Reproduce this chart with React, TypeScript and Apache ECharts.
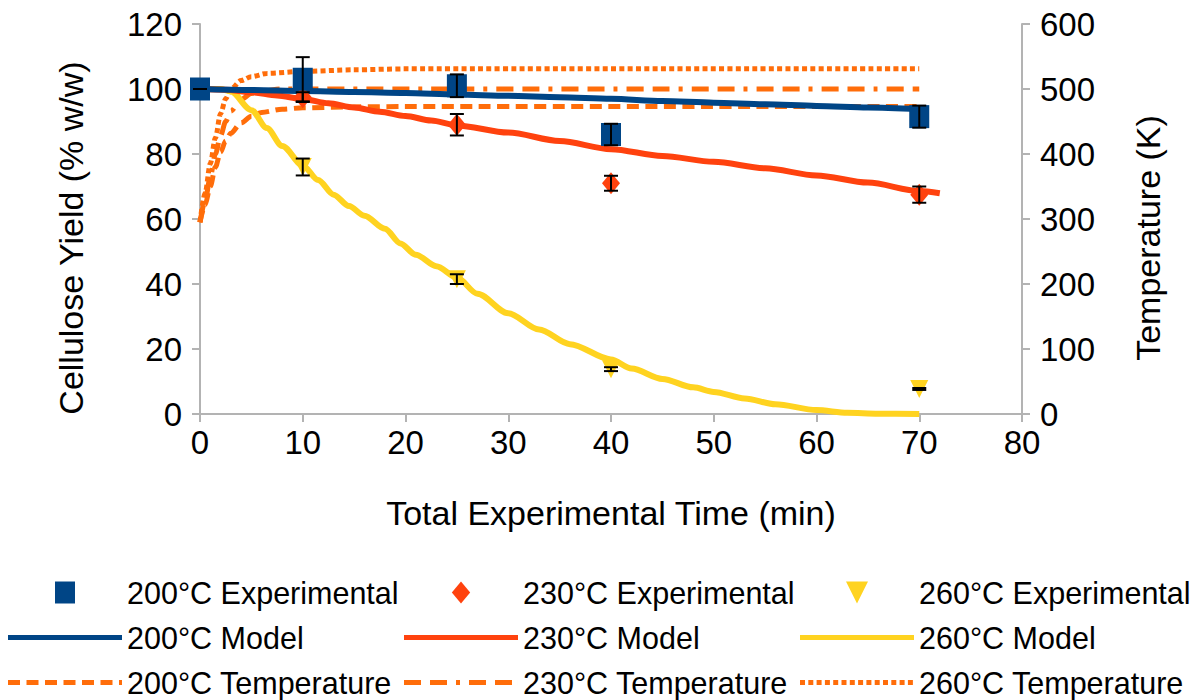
import React, { useEffect, useRef } from 'react';
import * as echarts from 'echarts';

const FONT = '"Liberation Sans", Arial, sans-serif';

// Experimental points [time, yield]
const exp200 = [[0, 100], [10, 103], [25, 101], [40, 86], [70, 91.5]];
const err200 = [0, 6.8, 3.5, 3.3, 3.4];
const exp230 = [[0, 100], [10, 97.5], [25, 89], [40, 71], [70, 67.5]];
const err230 = [0, 1.5, 3.3, 2.3, 2.5];
const exp260 = [[0, 100], [10, 76], [25, 41.5], [40, 13.8], [70, 7.7]];
const err260 = [0, 2.6, 1.5, 0.6, 0.3];

// Model curves [time, yield]
const model200 = [[0, 100], [5, 99.7], [10, 99.4], [15, 99.1], [20, 98.8], [25, 98.3], [30, 97.9], [35, 97.5], [40, 97], [45, 96.3], [50, 95.8], [55, 95.3], [60, 94.8], [65, 94.3], [70, 93.8]];
const model230 = [[0, 100], [2.5, 99.8], [5, 99], [7.5, 98], [10, 96.9], [12.5, 95.6], [15, 94.3], [17.5, 93], [20, 91.7], [22.5, 90.3], [25, 88.8], [30, 86.6], [35, 84], [40, 81.5], [45, 79.4], [50, 77.6], [55, 75.6], [60, 73.4], [65, 71.2], [70, 68.6], [72, 67.9]];
const model260 = [[0, 100], [2, 100], [3, 99.2], [5, 93.5], [6.5, 88], [8, 82.5], [10, 76.5], [11.5, 72], [13, 67.5], [14.5, 64], [16, 61], [18, 57], [19.5, 52.5], [21, 49], [23, 45.5], [25, 42], [27, 37], [30, 31], [33, 26], [36, 21.5], [40, 16.8], [42, 14], [45, 10.8], [48, 8.2], [50, 6.8], [53, 4.8], [56, 3], [60, 1.2], [63, 0.4], [66, 0.1], [70, 0]];

// Temperature curves [time, K]
const temp200 = [[0, 295], [0.5, 322], [1, 350], [1.5, 380], [2, 403], [2.5, 420], [3, 432], [4, 448], [5, 458], [6, 464], [8, 469], [10, 471], [15, 472.5], [20, 473], [70, 473]];
const temp230 = [[0, 295], [0.5, 328], [1, 365], [1.5, 400], [2, 428], [2.5, 450], [3, 466], [4, 484], [5, 493], [6, 497], [8, 500], [70, 500]];
const temp260 = [[0, 295], [0.5, 340], [1, 385], [1.5, 425], [2, 462], [2.5, 485], [3, 500], [4, 513], [5, 519], [6.5, 524], [10, 527], [15, 529.5], [20, 531], [70, 531]];

const N200E = '200°C Experimental', N230E = '230°C Experimental', N260E = '260°C Experimental';
const N200M = '200°C Model', N230M = '230°C Model', N260M = '260°C Model';
const N200T = '200°C Temperature', N230T = '230°C Temperature', N260T = '260°C Temperature';

const C200 = '#004586';
const C230 = '#ff420e';
const C260 = '#ffd320';
const CT = '#ff6d0a';
const AXIS = '#b3b3b3';

const DASH200: number[] = [12, 6.5];
const DASH230: number[] = [17, 9, 17, 9, 4, 9];
const DOT260: number[] = [5, 3.3];

const ICON_W = 114;
const SQUARE_ICON = 'path://M0,0 L10,0 L10,11 L0,11 Z';
const DIAMOND_ICON = 'path://M5,0 L10,6 L5,12 L0,6 Z';
const TRIANGLE_ICON = 'path://M0,0 L10,0 L5,10 Z';

// legend icon: a row of rectangles imitating a dashed stroke
function strokeIcon(pattern: number[] | null, h: number) {
  if (!pattern) return `path://M0,0 L${ICON_W},0 L${ICON_W},${h} L0,${h} Z`;
  let x = 0;
  let i = 0;
  let d = '';
  let lastEnd = 0;
  while (x < ICON_W) {
    const len = pattern[i % pattern.length];
    if (i % 2 === 0) {
      const x2 = Math.min(ICON_W, x + len);
      d += `M${x.toFixed(2)},0 L${x2.toFixed(2)},0 L${x2.toFixed(2)},${h} L${x.toFixed(2)},${h} Z `;
      lastEnd = x2;
    }
    x += len;
    i++;
  }
  if (lastEnd < ICON_W) {
    d += `M${(ICON_W - 0.01).toFixed(2)},0 L${ICON_W},0 L${ICON_W},${h} L${(ICON_W - 0.01).toFixed(2)},${h} Z`;
  }
  return 'path://' + d;
}

function errData(pts: number[][], errs: number[]) {
  return pts.map((p, i) => [p[0], p[1] - errs[i], p[1] + errs[i]]);
}

function errSeries(name: string, pts: number[][], errs: number[]) {
  return {
    name,
    type: 'custom',
    z: 10,
    data: errData(pts, errs),
    encode: { x: 0, y: [1, 2] },
    renderItem: (params: any, api: any) => {
      const x = api.value(0);
      const lo = api.value(1);
      const hi = api.value(2);
      const p1 = api.coord([x, hi]);
      const p2 = api.coord([x, lo]);
      const w = 7;
      const st = { stroke: '#000', lineWidth: 2 };
      return {
        type: 'group',
        children: [
          { type: 'line', shape: { x1: p1[0], y1: p1[1], x2: p2[0], y2: p2[1] }, style: st },
          { type: 'line', shape: { x1: p1[0] - w, y1: p1[1], x2: p1[0] + w, y2: p1[1] }, style: st },
          { type: 'line', shape: { x1: p2[0] - w, y1: p2[1], x2: p2[0] + w, y2: p2[1] }, style: st },
        ],
      };
    },
  };
}

function lineSeries(name: string, data: number[][], color: string, yAxisIndex: number, type: any, width: number, z: number) {
  return {
    name,
    type: 'line',
    data,
    yAxisIndex,
    symbol: 'none',
    smooth: 0.3,
    smoothMonotone: 'x',
    z,
    lineStyle: { color, width, type, cap: 'butt' },
    itemStyle: { color },
  };
}

function item(name: string, icon: string, color: string) {
  return { name, icon, itemStyle: { color, borderWidth: 0, opacity: 1 } };
}

const legendBase = {
  orient: 'vertical',
  top: 577,
  itemWidth: ICON_W,
  itemHeight: 22,
  itemGap: 14,
  padding: 0,
  selectedMode: false,
  symbolKeepAspect: true,
  textStyle: { fontSize: 30.5, color: '#000', fontFamily: FONT, lineHeight: 30 },
};

const option: any = {
  animation: false,
  backgroundColor: '#fff',
  textStyle: { fontFamily: FONT },
  grid: { left: 200, right: 170, top: 24, bottom: 286, containLabel: false, outerBoundsMode: 'none' },
  legend: [
    {
      ...legendBase,
      left: 8,
      data: [item(N200E, SQUARE_ICON, C200), item(N200M, strokeIcon(null, 5), C200), item(N200T, strokeIcon(DASH200, 5), CT)],
    },
    {
      ...legendBase,
      left: 404,
      data: [item(N230E, DIAMOND_ICON, C230), item(N230M, strokeIcon(null, 5), C230), item(N230T, strokeIcon(DASH230, 5), CT)],
    },
    {
      ...legendBase,
      left: 800,
      data: [item(N260E, TRIANGLE_ICON, C260), item(N260M, strokeIcon(null, 5), C260), item(N260T, strokeIcon(DOT260, 5), CT)],
    },
  ],
  xAxis: {
    type: 'value',
    min: 0,
    max: 80,
    interval: 10,
    name: 'Total Experimental Time (min)',
    nameLocation: 'middle',
    nameGap: 82,
    nameTextStyle: { fontSize: 34, color: '#000', fontFamily: FONT },
    axisLine: { show: true, lineStyle: { color: AXIS, width: 2 } },
    axisTick: { show: true, length: 8, lineStyle: { color: AXIS, width: 2 } },
    axisLabel: { fontSize: 33, color: '#000', margin: 12, fontFamily: FONT },
    splitLine: { show: false },
  },
  yAxis: [
    {
      type: 'value',
      min: 0,
      max: 120,
      interval: 20,
      position: 'left',
      axisLine: { show: true, lineStyle: { color: AXIS, width: 2 } },
      axisTick: { show: true, length: 8, lineStyle: { color: AXIS, width: 2 } },
      axisLabel: { fontSize: 33, color: '#000', margin: 18, fontFamily: FONT },
      splitLine: { show: false },
    },
    {
      type: 'value',
      min: 0,
      max: 600,
      interval: 100,
      position: 'right',
      axisLine: { show: true, lineStyle: { color: AXIS, width: 2 } },
      axisTick: { show: true, length: 8, lineStyle: { color: AXIS, width: 2 } },
      axisLabel: { fontSize: 33, color: '#000', margin: 18, fontFamily: FONT },
      splitLine: { show: false },
    },
  ],
  graphic: [
    {
      type: 'text',
      x: 71,
      y: 238,
      rotation: Math.PI / 2,
      style: { text: 'Cellulose Yield (% w/w)', fontSize: 34, fontFamily: FONT, fill: '#000', align: 'center', verticalAlign: 'middle' },
    },
    {
      type: 'text',
      x: 1148,
      y: 238,
      rotation: Math.PI / 2,
      style: { text: 'Temperature (K)', fontSize: 34, fontFamily: FONT, fill: '#000', align: 'center', verticalAlign: 'middle' },
    },
  ],
  series: [
    lineSeries(N200T, temp200, CT, 1, DASH200, 5, 2),
    lineSeries(N230T, temp230, CT, 1, DASH230, 5, 2),
    lineSeries(N260T, temp260, CT, 1, DOT260, 5, 2),
    lineSeries(N260M, model260, C260, 0, 'solid', 6, 3),
    lineSeries(N230M, model230, C230, 0, 'solid', 6, 3),
    lineSeries(N200M, model200, C200, 0, 'solid', 6, 3),
    {
      name: N260E,
      type: 'scatter',
      data: exp260,
      symbol: TRIANGLE_ICON,
      symbolSize: [18, 18],
      itemStyle: { color: C260, opacity: 1 },
      z: 4,
    },
    {
      name: N230E,
      type: 'scatter',
      data: exp230,
      symbol: 'diamond',
      symbolSize: [18, 22],
      itemStyle: { color: C230, opacity: 1 },
      z: 4,
    },
    {
      name: N200E,
      type: 'scatter',
      data: exp200,
      symbol: 'rect',
      symbolSize: [20, 23],
      itemStyle: { color: C200, opacity: 1 },
      z: 4,
    },
    errSeries('err260', exp260, err260),
    errSeries('err230', exp230, err230),
    errSeries('err200', exp200, err200),
  ],
};

export default function App() {
  const ref = useRef<HTMLDivElement>(null);
  useEffect(() => {
    const chart = echarts.init(ref.current as HTMLDivElement, null, { renderer: 'svg' });
    chart.setOption(option);
    return () => chart.dispose();
  }, []);
  return <div ref={ref} style={{ position: 'absolute', left: 0, top: 0, width: 1192, height: 700, background: '#fff' }} />;
}
